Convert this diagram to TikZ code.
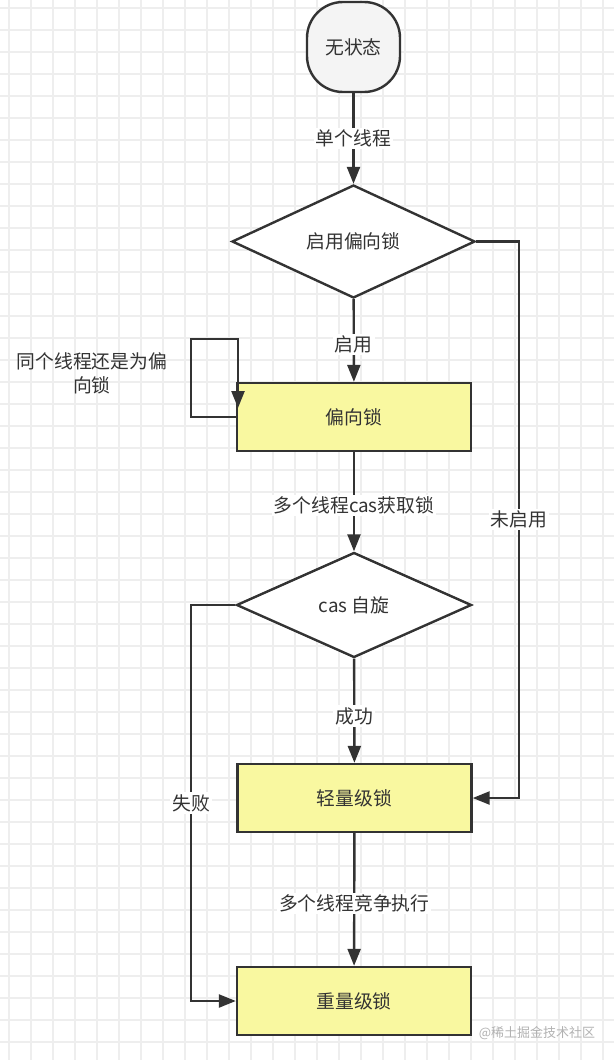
\documentclass[tikz,border=0pt]{standalone}
\usepackage{fontspec}
\newfontfamily\cjk{Noto Sans CJK SC}
\usetikzlibrary{arrows.meta,shapes.geometric}
\definecolor{lc}{HTML}{333333}
\definecolor{tc}{HTML}{333333}
\definecolor{gridc}{HTML}{EEEEEE}
\definecolor{yfill}{HTML}{F9F8A0}
\definecolor{sfill}{HTML}{F4F4F4}
\begin{document}
\begin{tikzpicture}[x=1pt,y=-1pt,
  font=\cjk\fontsize{18.8}{24}\selectfont,
  gridline/.style={draw=gridc, line width=1.3pt},
  startnode/.style={draw=lc, line width=2.4pt, fill=sfill, rounded corners=36pt,
    minimum width=93pt, minimum height=90pt, inner sep=0pt, text=tc},
  decide/.style={draw=lc, line width=2.4pt, fill=white, diamond, inner sep=0pt, text=tc},
  lockbox/.style={draw=lc, line width=2.4pt, fill=yfill, minimum width=234pt,
    minimum height=68pt, inner sep=0pt, text=tc},
  arr/.style={draw=lc, line width=2.4pt, -{Triangle[length=17pt,width=13pt]}},
  lbl/.style={fill=white, inner sep=2pt, text=tc}]
\fill[white] (0,0) rectangle (614,1060);
\useasboundingbox (0,0) rectangle (614,1060);
\foreach \x in {9,31,...,609} \draw[gridline] (\x,0) -- (\x,1060);
\foreach \y in {8,30,...,1058} \draw[gridline] (0,\y) -- (614,\y);

\node[startnode] (s) at (353.5,47) {无状态};
\node[decide, minimum width=243pt, minimum height=113pt] (d1) at (353.5,241.5) {启用偏向锁};
\node[lockbox] (b1) at (354,417) {偏向锁};
\node[decide, minimum width=235pt, minimum height=105pt] (d2) at (354,605) {cas 自旋};
\node[lockbox] (b2) at (354.5,798) {轻量级锁};
\node[lockbox] (b3) at (354,1001) {重量级锁};
\node[text=tc, align=center] (loopl) at (92,373) {同个线程还是为偏\\向锁};

\coordinate (r1) at (519,241.5);
\coordinate (r2) at (519,798);
\coordinate (l1) at (191,605);
\coordinate (l2) at (191,1001);
\coordinate (p1) at (191,417);
\coordinate (p2) at (191,339);
\coordinate (p3) at (238,339);
\coordinate (p4) at (238,408);

\draw[arr] (s) -- node[lbl] {单个线程} (d1);
\draw[arr] (d1) -- node[lbl, pos=0.55] {启用} (b1);
\draw[arr] (b1) -- node[lbl, pos=0.54] {多个线程cas获取锁} (d2);
\draw[arr] (d2) -- node[lbl, pos=0.55] {成功} (b2);
\draw[arr] (b2) -- node[lbl, pos=0.53] {多个线程竞争执行} (b3);
\draw[arr] (d1.east) -- (r1) -- node[lbl] {未启用} (r2) -- (b2.east);
\draw[arr] (d2.west) -- (l1) -- node[lbl] {失败} (l2) -- (b3.west);
\draw[arr] (b1.west) -- (p1) -- (p2) -- (p3) -- (p4);

\node[text=gray!60, font=\cjk\fontsize{13}{15}\selectfont] (wm) at (537,1033) {@稀土掘金技术社区};
\end{tikzpicture}
\end{document}
